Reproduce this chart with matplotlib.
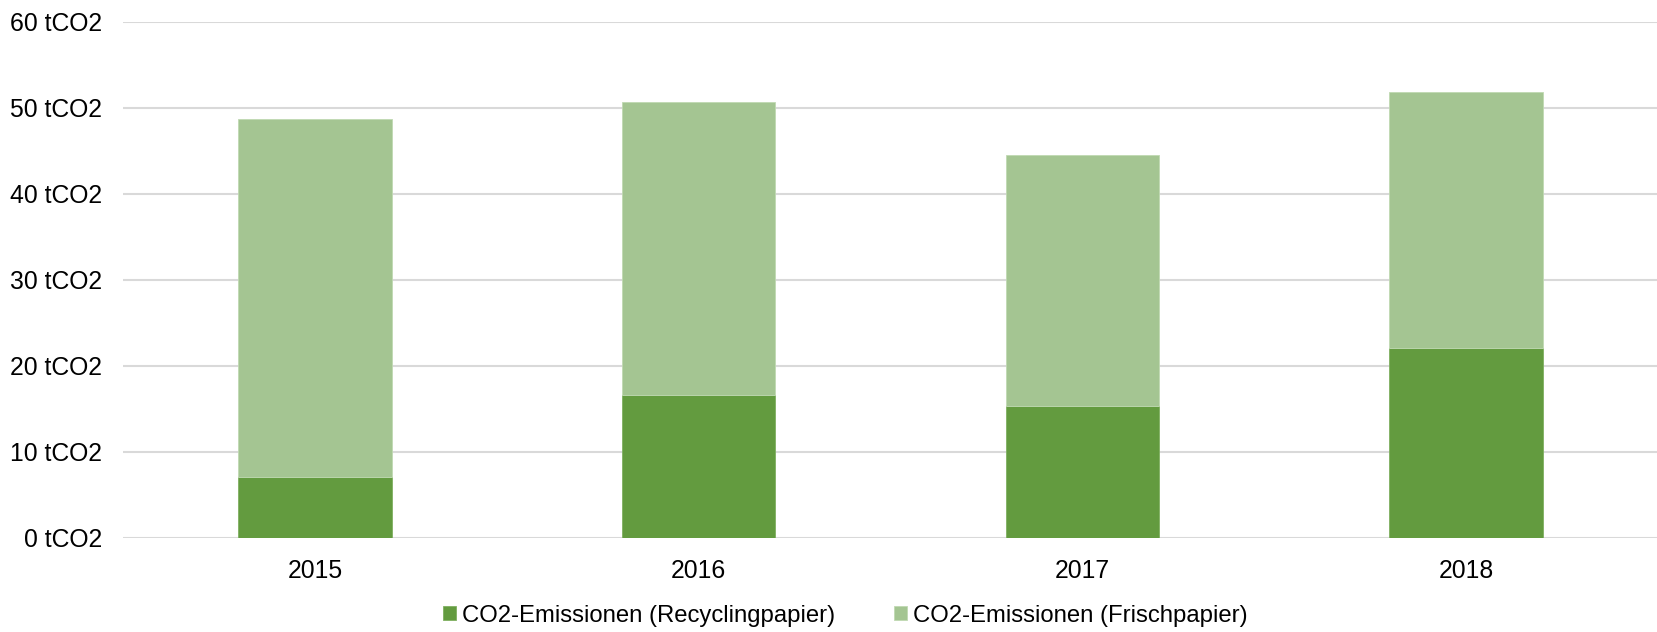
import matplotlib
matplotlib.use("Agg")
import matplotlib.pyplot as plt
import numpy as np

years = ["2015", "2016", "2017", "2018"]
recycling = [7.1, 16.6, 15.3, 22.1]
frisch = [41.6, 34.1, 29.2, 29.7]
yticks = [0, 10, 20, 30, 40, 50, 60]
ytick_labels = [f"{v} tCO2" for v in yticks]
series_names = ["CO2-Emissionen (Recyclingpapier)", "CO2-Emissionen (Frischpapier)"]

dark = "#639B3F"
light = "#A4C592"

plt.rcParams['font.family'] = ['Liberation Sans', 'DejaVu Sans']

fig = plt.figure(figsize=(16.58, 6.32), dpi=100)
ax = fig.add_axes([0.0742, 0.1492, 0.9258, 0.8165])

x = np.arange(len(years))
b1 = ax.bar(x, recycling, width=0.4, color=dark, edgecolor="#7FB060", linewidth=0.6, zorder=3,
            label=series_names[0])
b2 = ax.bar(x, frisch, width=0.4, bottom=recycling, color=light, edgecolor="#C0D9B2",
            linewidth=0.6, zorder=3, label=series_names[1])

ax.set_xlim(-0.5, len(years) - 0.5)
ax.set_ylim(0, 60)
ax.set_yticks(yticks)
ax.set_yticklabels(ytick_labels, fontsize=17.8)
ax.set_xticks(x)
ax.set_xticklabels(years, fontsize=17.8)
ax.yaxis.grid(True, color="#D9D9D9", linewidth=1.5, zorder=0)
ax.set_axisbelow(True)
for s in ax.spines.values():
    s.set_visible(False)
ax.tick_params(axis='both', length=0, colors="black")
ax.tick_params(axis='y', pad=15)
ax.tick_params(axis='x', pad=15)

fig.legend(handles=[b1, b2], labels=series_names, loc='center', bbox_to_anchor=(0.5097, 0.026),
           ncol=2, frameon=False, fontsize=17.2, handlelength=0.55, handleheight=0.55,
           handletextpad=0.25, columnspacing=2.45)

fig.savefig("out.png", dpi=100)
